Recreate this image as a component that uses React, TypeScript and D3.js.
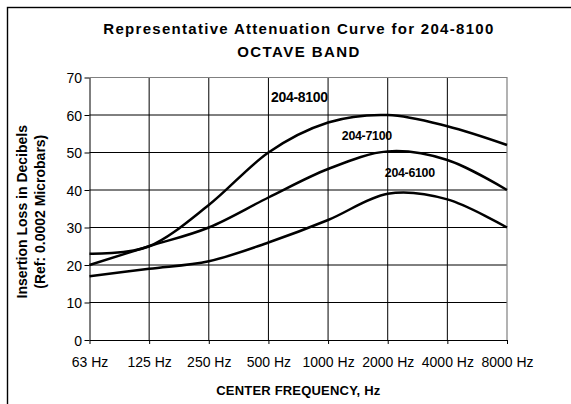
import { useEffect, useRef } from "react";
import * as d3 from "d3";

const frequencies = ["63 Hz", "125 Hz", "250 Hz", "500 Hz", "1000 Hz", "2000 Hz", "4000 Hz", "8000 Hz"];
const yTicks = [0, 10, 20, 30, 40, 50, 60, 70];

const series8100 = [23, 25, 36, 50, 58, 60, 57, 52];
const series7100 = [20, 25, 30, 38, 45.6, 50.3, 48, 40];
const series6100 = [17, 19, 21, 26, 32, 39, 37.5, 30];

// label anchors: category index (fractional) and value at the baseline
const labels = [
  { text: "204-8100", idx: 3.52, value: 63.5, size: 14 },
  { text: "204-7100", idx: 4.65, value: 53.3, size: 12.4 },
  { text: "204-6100", idx: 5.37, value: 43.5, size: 12.4 },
];

const FONT = "'Liberation Sans', Arial, sans-serif";

export default function App() {
  const svgRef = useRef<SVGSVGElement>(null);

  useEffect(() => {
    if (!svgRef.current) return;
    const width = 571;
    const height = 404;
    const left = 89.5;
    const right = 507;
    const top = 77.5;
    const bottom = 340;

    const svg = d3.select(svgRef.current);
    svg.selectAll("*").remove();
    svg.attr("width", width).attr("height", height);

    const x = d3.scaleLinear().domain([0, frequencies.length - 1]).range([left, right]);
    const y = d3.scaleLinear().domain([0, 70]).range([bottom, top]);

    // outer chart frame (runs off the page on the right and bottom)
    svg.append("rect")
      .attr("x", 7.5).attr("y", 7.5)
      .attr("width", 700).attr("height", 500)
      .attr("fill", "#fff")
      .attr("stroke", "#000")
      .attr("stroke-width", 1.4);

    // title
    svg.append("text")
      .attr("x", (left + right) / 2).attr("y", 33.5)
      .attr("text-anchor", "middle")
      .attr("font-family", FONT).attr("font-weight", "bold").attr("font-size", 15)
      .attr("textLength", 390).attr("lengthAdjust", "spacing")
      .text("Representative Attenuation Curve for 204-8100");
    svg.append("text")
      .attr("x", (left + right) / 2).attr("y", 57)
      .attr("text-anchor", "middle")
      .attr("font-family", FONT).attr("font-weight", "bold").attr("font-size", 15)
      .attr("textLength", 122).attr("lengthAdjust", "spacing")
      .text("OCTAVE BAND");

    // grid
    const grid = svg.append("g").attr("stroke", "#000").attr("stroke-width", 1);
    yTicks.slice(1, -1).forEach((v) => {
      grid.append("line").attr("x1", left).attr("x2", right).attr("y1", y(v)).attr("y2", y(v));
    });
    frequencies.slice(1, -1).forEach((_, i) => {
      grid.append("line").attr("x1", x(i + 1)).attr("x2", x(i + 1)).attr("y1", top).attr("y2", bottom);
    });

    // plot border (top/right gray)
    svg.append("path")
      .attr("d", `M${left},${top}H${right}V${bottom}`)
      .attr("fill", "none").attr("stroke", "#808080").attr("stroke-width", 1.2);

    // axes
    const yAxis = d3.axisLeft(y).tickValues(yTicks).tickSize(5).tickSizeOuter(0);
    const yG = svg.append("g").attr("transform", `translate(${left},0)`).call(yAxis);
    yG.select(".domain").attr("stroke", "#000");
    yG.selectAll("line").attr("stroke", "#000");
    yG.selectAll("text")
      .attr("font-family", FONT).attr("font-size", 14).attr("fill", "#000")
      .attr("x", -7.5).attr("dy", "0.36em");

    const xAxis = d3.axisBottom(x).tickValues(d3.range(frequencies.length))
      .tickFormat((d) => frequencies[d as number]).tickSize(4).tickSizeOuter(0);
    const xG = svg.append("g").attr("transform", `translate(0,${bottom})`).call(xAxis);
    xG.select(".domain").attr("stroke", "#000");
    xG.selectAll("line").attr("stroke", "#000");
    xG.selectAll("text")
      .attr("font-family", FONT).attr("font-size", 14).attr("fill", "#000")
      .attr("y", 22).attr("dy", "0.36em");

    // curves
    const line = d3.line<number>()
      .x((_, i) => x(i))
      .y((d) => y(d))
      .curve(d3.curveCatmullRom.alpha(0));
    [series8100, series7100, series6100].forEach((s) => {
      svg.append("path")
        .attr("d", line(s) || "")
        .attr("fill", "none")
        .attr("stroke", "#000")
        .attr("stroke-width", 2.5)
        .attr("stroke-linejoin", "round");
    });

    // series labels
    labels.forEach((l) => {
      svg.append("text")
        .attr("x", x(l.idx)).attr("y", y(l.value))
        .attr("text-anchor", "middle")
        .attr("font-family", FONT).attr("font-weight", "bold").attr("font-size", l.size)
        .attr("letter-spacing", -0.3)
        .text(l.text);
    });

    // axis titles
    svg.append("text")
      .attr("x", (left + right) / 2).attr("y", 395)
      .attr("text-anchor", "middle")
      .attr("font-family", FONT).attr("font-weight", "bold").attr("font-size", 13)
      .attr("textLength", 164).attr("lengthAdjust", "spacing")
      .text("CENTER FREQUENCY, Hz");

    const yt = svg.append("g").attr("transform", `translate(0,${(top + bottom) / 2 + 3}) rotate(-90)`);
    yt.append("text")
      .attr("x", 0).attr("y", 27)
      .attr("text-anchor", "middle")
      .attr("font-family", FONT).attr("font-weight", "bold").attr("font-size", 14)
      .text("Insertion Loss in Decibels");
    yt.append("text")
      .attr("x", 0).attr("y", 45)
      .attr("text-anchor", "middle")
      .attr("font-family", FONT).attr("font-weight", "bold").attr("font-size", 14)
      .text("(Ref: 0.0002 Microbars)");
  }, []);

  return (
    <div style={{ position: "absolute", left: 0, top: 0 }}>
      <svg ref={svgRef} style={{ display: "block" }} />
    </div>
  );
}
